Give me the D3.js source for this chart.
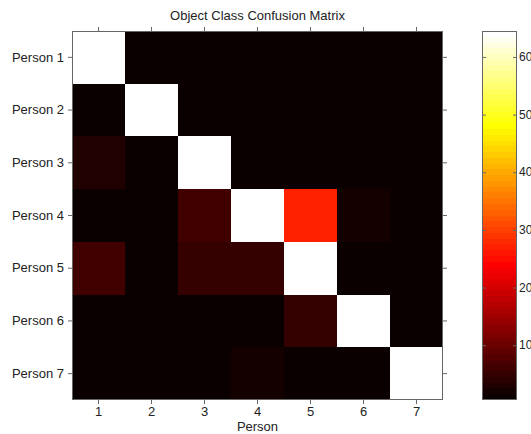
<!DOCTYPE html>
<html>
<head>
<meta charset="utf-8">
<script src="https://cdn.jsdelivr.net/npm/d3@7"></script>
<style>
  body { margin: 0; background: #fff; }
  text { font-family: "Liberation Sans", Arial, sans-serif; fill: #222; }
</style>
</head>
<body>
<div id="chart"></div>
<script>
// confusion matrix values (colour index, 1..64), rows = true person, cols = predicted
const rowLabels = ["Person 1", "Person 2", "Person 3", "Person 4", "Person 5", "Person 6", "Person 7"];
const colLabels = ["1", "2", "3", "4", "5", "6", "7"];
const matrix = [
  [64, 1, 1, 1, 1, 1, 1],
  [1, 64, 1, 1, 1, 1, 1],
  [3, 1, 64, 1, 1, 1, 1],
  [1, 1, 6, 64, 27, 2, 1],
  [6, 1, 5, 5, 64, 1, 1],
  [1, 1, 1, 1, 5, 64, 1],
  [1, 1, 1, 2, 1, 1, 64]
];
const cbarTicks = [10, 20, 30, 40, 50, 60];

const width = 531, height = 434;
const plot = { left: 72, top: 31, right: 443, bottom: 400 };
const cbar = { left: 482, right: 517, top: 31, bottom: 400 };

// MATLAB "hot" colormap, 64 entries
const hot = d3.range(1, 65).map(i => {
  const r = Math.min(1, i / 24);
  const g = Math.max(0, Math.min(1, (i - 24) / 24));
  const b = Math.max(0, Math.min(1, (i - 48) / 16));
  return d3.rgb(r * 255, g * 255, b * 255).toString();
});
const color = v => hot[Math.max(1, Math.min(64, Math.round(v))) - 1];

const svg = d3.select("#chart").append("svg")
  .attr("width", width)
  .attr("height", height);

const x = d3.scaleBand().domain(colLabels).range([plot.left, plot.right]);
const y = d3.scaleBand().domain(rowLabels).range([plot.top, plot.bottom]);

const cells = [];
matrix.forEach((row, i) => row.forEach((v, j) => cells.push({ r: rowLabels[i], c: colLabels[j], v })));

svg.append("g")
  .attr("shape-rendering", "crispEdges")
  .selectAll("rect")
  .data(cells)
  .enter().append("rect")
  .attr("x", d => Math.round(x(d.c)))
  .attr("y", d => Math.round(y(d.r)))
  .attr("width", d => Math.round(x(d.c) + x.bandwidth()) - Math.round(x(d.c)))
  .attr("height", d => Math.round(y(d.r) + y.bandwidth()) - Math.round(y(d.r)))
  .attr("fill", d => color(d.v));

// box + outward ticks
const axisColor = "#666";
svg.append("rect")
  .attr("x", plot.left + 0.5).attr("y", plot.top + 0.5)
  .attr("width", plot.right - plot.left - 1).attr("height", plot.bottom - plot.top - 1)
  .attr("fill", "none").attr("stroke", axisColor).attr("stroke-width", 1);

const styleAxis = g => {
  g.select(".domain").remove();
  g.selectAll(".tick line").attr("stroke", axisColor);
  g.selectAll(".tick text").style("font-size", "13px").attr("fill", "#222");
};

svg.append("g")
  .attr("transform", `translate(0,${plot.bottom})`)
  .call(d3.axisBottom(x).tickSize(4).tickPadding(3))
  .call(styleAxis);
svg.append("g")
  .attr("transform", `translate(0,${plot.top})`)
  .call(d3.axisTop(x).tickSize(4).tickFormat(""))
  .call(styleAxis);
svg.append("g")
  .attr("transform", `translate(${plot.left},0)`)
  .call(d3.axisLeft(y).tickSize(4).tickPadding(4))
  .call(styleAxis);
svg.append("g")
  .attr("transform", `translate(${plot.right},0)`)
  .call(d3.axisRight(y).tickSize(4).tickFormat(""))
  .call(styleAxis);

svg.selectAll("text").attr("font-family", "Liberation Sans, Arial, sans-serif");

svg.append("text")
  .attr("x", (plot.left + plot.right) / 2)
  .attr("y", 20)
  .attr("text-anchor", "middle")
  .style("font-size", "13px")
  .text("Object Class Confusion Matrix");

svg.append("text")
  .attr("x", (plot.left + plot.right) / 2)
  .attr("y", 431)
  .attr("text-anchor", "middle")
  .style("font-size", "13px")
  .text("Person");

// colorbar
const cy = d3.scaleLinear().domain([0.5, 64.5]).range([cbar.bottom, cbar.top]);
svg.append("g")
  .attr("shape-rendering", "crispEdges")
  .selectAll("rect")
  .data(d3.range(1, 65))
  .enter().append("rect")
  .attr("x", cbar.left)
  .attr("y", d => Math.round(cy(d + 0.5)))
  .attr("width", cbar.right - cbar.left)
  .attr("height", d => Math.round(cy(d - 0.5)) - Math.round(cy(d + 0.5)))
  .attr("fill", d => color(d));

svg.append("rect")
  .attr("x", cbar.left + 0.5).attr("y", cbar.top + 0.5)
  .attr("width", cbar.right - cbar.left - 1).attr("height", cbar.bottom - cbar.top - 1)
  .attr("fill", "none").attr("stroke", axisColor);

svg.append("g")
  .attr("transform", `translate(${cbar.right},0)`)
  .call(d3.axisLeft(cy).tickValues(cbarTicks).tickSize(4).tickFormat(""))
  .call(styleAxis);
svg.append("g")
  .attr("transform", `translate(${cbar.left},0)`)
  .call(d3.axisRight(cy).tickValues(cbarTicks).tickSize(4).tickFormat(""))
  .call(styleAxis);
svg.append("g")
  .selectAll("text")
  .data(cbarTicks)
  .enter().append("text")
  .attr("x", cbar.right + 2)
  .attr("y", d => cy(d) + 4)
  .style("font-size", "12px")
  .text(d => d);
</script>
</body>
</html>
